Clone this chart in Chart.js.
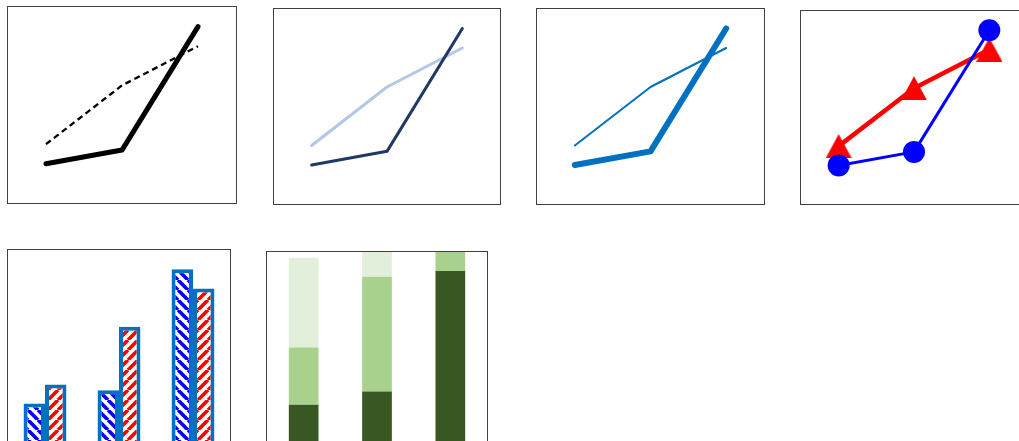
<!DOCTYPE html>
<html>
<head>
<meta charset="utf-8">
<script src="https://cdn.jsdelivr.net/npm/chart.js@4"></script>
<style>
  html, body { margin: 0; padding: 0; background: #fff; overflow: hidden; }
  body { width: 1019px; height: 441px; position: relative; }
  .panel { position: absolute; border: 1px solid #404040; background: #fff; }
  .panel canvas { display: block; }
</style>
</head>
<body>
<div class="panel" style="left:7px;top:6px;"><canvas id="c1" width="228" height="196"></canvas></div>
<div class="panel" style="left:273px;top:8px;"><canvas id="c2" width="226" height="195"></canvas></div>
<div class="panel" style="left:536px;top:8px;"><canvas id="c3" width="227" height="195"></canvas></div>
<div class="panel" style="left:800px;top:10px;"><canvas id="c4" width="226" height="193"></canvas></div>
<div class="panel" style="left:7px;top:249px;"><canvas id="c5" width="222" height="192"></canvas></div>
<div class="panel" style="left:266px;top:251px;"><canvas id="c6" width="220" height="191"></canvas></div>
<script>
// same three categories in every panel, no labels shown
const categories = ["1", "2", "3"];
const seriesA = [2, 2.7, 9];
const seriesB = [3, 6, 8];
const seriesC = [4.7, 3, 2];
const yMin = 0;
const yMax = 10;

function hatch(color, dir) {
  const s = 10;
  const c = document.createElement("canvas");
  c.width = s; c.height = s;
  const g = c.getContext("2d");
  g.fillStyle = "#fff";
  g.fillRect(0, 0, s, s);
  g.strokeStyle = color;
  g.lineWidth = 3.6;
  g.beginPath();
  [-s, 0, s].forEach(k => {
    if (dir === "back") { g.moveTo(k, 0); g.lineTo(k + s, s); }
    else { g.moveTo(k, s); g.lineTo(k + s, 0); }
  });
  g.stroke();
  return g.createPattern(c, "repeat");
}

function triangleImg(color) {
  const c = document.createElement("canvas");
  c.width = 26; c.height = 24;
  const g = c.getContext("2d");
  g.fillStyle = color;
  g.beginPath();
  g.moveTo(13, 0); g.lineTo(26, 24); g.lineTo(0, 24);
  g.closePath();
  g.fill();
  return c;
}

function baseOptions(stacked) {
  return {
    responsive: false,
    animation: false,
    layout: { padding: 0, autoPadding: false },
    plugins: { legend: { display: false }, tooltip: { enabled: false } },
    scales: {
      x: { type: "category", offset: true, display: false, stacked: stacked },
      y: { display: false, min: yMin, max: yMax, stacked: stacked }
    }
  };
}

function line(data, color, width, extra) {
  return Object.assign({
    data: data, borderColor: color, backgroundColor: color,
    borderWidth: width, tension: 0, pointRadius: 0, fill: false,
    borderCapStyle: "round", borderJoinStyle: "round", clip: false
  }, extra || {});
}

function lineChart(id, datasets) {
  return new Chart(document.getElementById(id), {
    type: "line",
    data: { labels: categories, datasets: datasets },
    options: baseOptions(false)
  });
}

lineChart("c1", [
  line(seriesA, "#000", 5),
  line(seriesB, "#000", 2.3, { borderDash: [6, 4], borderCapStyle: "butt" })
]);

lineChart("c2", [
  line(seriesA, "#203864", 3),
  line(seriesB, "#b4c7e7", 3)
]);

lineChart("c3", [
  line(seriesA, "#0070c0", 6),
  line(seriesB, "#0070c0", 2)
]);

lineChart("c4", [
  line(seriesA, "#0000ff", 3, { pointRadius: 11, pointStyle: "circle", pointBorderWidth: 0 }),
  line(seriesB, "#ff0000", 4.5, { pointRadius: 13, pointStyle: triangleImg("#ff0000") })
]);

new Chart(document.getElementById("c5"), {
  type: "bar",
  data: {
    labels: categories,
    datasets: [
      { data: seriesA, backgroundColor: hatch("#0000ff", "back"), borderColor: "#0070c0",
        borderWidth: 4, borderSkipped: "start", barPercentage: 1, categoryPercentage: 0.58 },
      { data: seriesB, backgroundColor: hatch("#ff0000", "fwd"), borderColor: "#0070c0",
        borderWidth: 4, borderSkipped: "start", barPercentage: 1, categoryPercentage: 0.58 }
    ]
  },
  options: baseOptions(false)
});

new Chart(document.getElementById("c6"), {
  type: "bar",
  data: {
    labels: categories,
    datasets: [
      { data: seriesA, backgroundColor: "#385723", barPercentage: 0.405, categoryPercentage: 1 },
      { data: seriesB, backgroundColor: "#a9d18e", barPercentage: 0.405, categoryPercentage: 1 },
      { data: seriesC, backgroundColor: "#e2efda", barPercentage: 0.405, categoryPercentage: 1 }
    ]
  },
  options: baseOptions(true)
});
</script>
</body>
</html>
